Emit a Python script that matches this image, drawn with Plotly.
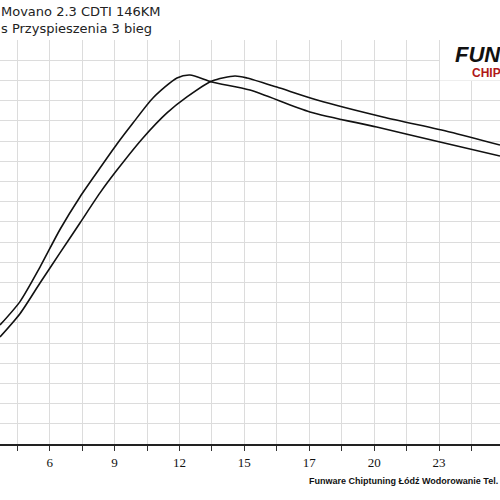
import plotly.graph_objects as go

# x in grid units (one unit per vertical grid line), y in grid units
xa = [-0.533, 0.083, 0.70, 1.316, 1.932, 2.549, 3.073, 3.566, 4.182, 4.922, 5.323, 6.0, 7.171, 9.02, 11.08, 13.03, 14.88]
ya = [5.89, 7.05, 8.76, 10.62, 12.23, 13.66, 14.85, 15.89, 17.13, 18.12, 18.27, 17.92, 17.52, 16.44, 15.69, 14.95, 14.26]
xb = [-0.533, 0.083, 0.70, 1.316, 1.932, 2.549, 3.073, 3.874, 4.614, 5.230, 6.0, 6.709, 7.079, 8.0, 9.24, 11.27, 13.33, 14.88]
yb = [5.30, 6.45, 7.97, 9.46, 10.94, 12.43, 13.56, 15.15, 16.39, 17.18, 17.97, 18.22, 18.12, 17.67, 17.03, 16.19, 15.45, 14.80]
tick_pos = list(range(0, 15))
tick_text = ["", "6", "", "9", "", "12", "", "15", "", "17", "", "20", "", "23", ""]

fig = go.Figure()
for x, y in [(xa, ya), (xb, yb)]:
    fig.add_trace(go.Scatter(x=x, y=y, mode="lines", line=dict(color="#111", width=1.6, shape="spline", smoothing=0.7),
                             hoverinfo="skip", showlegend=False))

fig.update_layout(
    width=500, height=500, margin=dict(l=0, r=0, t=40, b=56),
    paper_bgcolor="white", plot_bgcolor="white",
    xaxis=dict(range=[-0.533, 14.88], tickmode="array", tickvals=tick_pos, ticktext=tick_text,
               showgrid=True, gridcolor="#dcdcdc", gridwidth=1.2, zeroline=False,
               ticks="outside", ticklen=5, tickcolor="#333", showline=True, linecolor="#222", linewidth=2,
               tickfont=dict(family="Liberation Serif", size=13, color="#111"), fixedrange=True),
    yaxis=dict(range=[0, 20], dtick=1, showgrid=True, gridcolor="#dcdcdc", gridwidth=1.2,
               zeroline=False, showticklabels=False, showline=False, fixedrange=True),
)
fig.add_shape(type="rect", xref="paper", yref="paper", x0=0.88, x1=1.0, y0=0.9, y1=1.0,
              fillcolor="white", line_width=0, layer="above")
fig.add_annotation(text="Movano 2.3 CDTI 146KM", xref="paper", yref="paper", x=-0.003, y=1.0, yshift=29,
                   xanchor="left", yanchor="middle", showarrow=False,
                   font=dict(family="DejaVu Sans", size=13, color="#222"))
fig.add_annotation(text="s Przyspieszenia 3 bieg", xref="paper", yref="paper", x=-0.003, y=1.0, yshift=12,
                   xanchor="left", yanchor="middle", showarrow=False,
                   font=dict(family="DejaVu Sans", size=13, color="#222"))
fig.add_annotation(text="<b><i>FUNWARE</i></b>", xref="paper", yref="paper", x=0.905, y=1.0, yshift=-14,
                   xanchor="left", yanchor="middle", showarrow=False,
                   font=dict(family="Liberation Sans", size=22, color="#111"))
fig.add_annotation(text="<b>CHIPTUNING</b>", xref="paper", yref="paper", x=0.94, y=1.0, yshift=-33,
                   xanchor="left", yanchor="middle", showarrow=False,
                   font=dict(family="Liberation Sans", size=12, color="#b01818"))
fig.add_annotation(text="<b>Funware Chiptuning Łódź Wodorowanie Tel. 7</b>", xref="paper", yref="paper",
                   x=0.614, y=0, yshift=-37, xanchor="left", yanchor="middle", showarrow=False,
                   font=dict(family="Liberation Sans", size=9, color="#111"))
fig.write_html("out.html", config={"displayModeBar": False},
               post_script="document.body.style.margin='0';document.body.style.overflow='hidden';")
